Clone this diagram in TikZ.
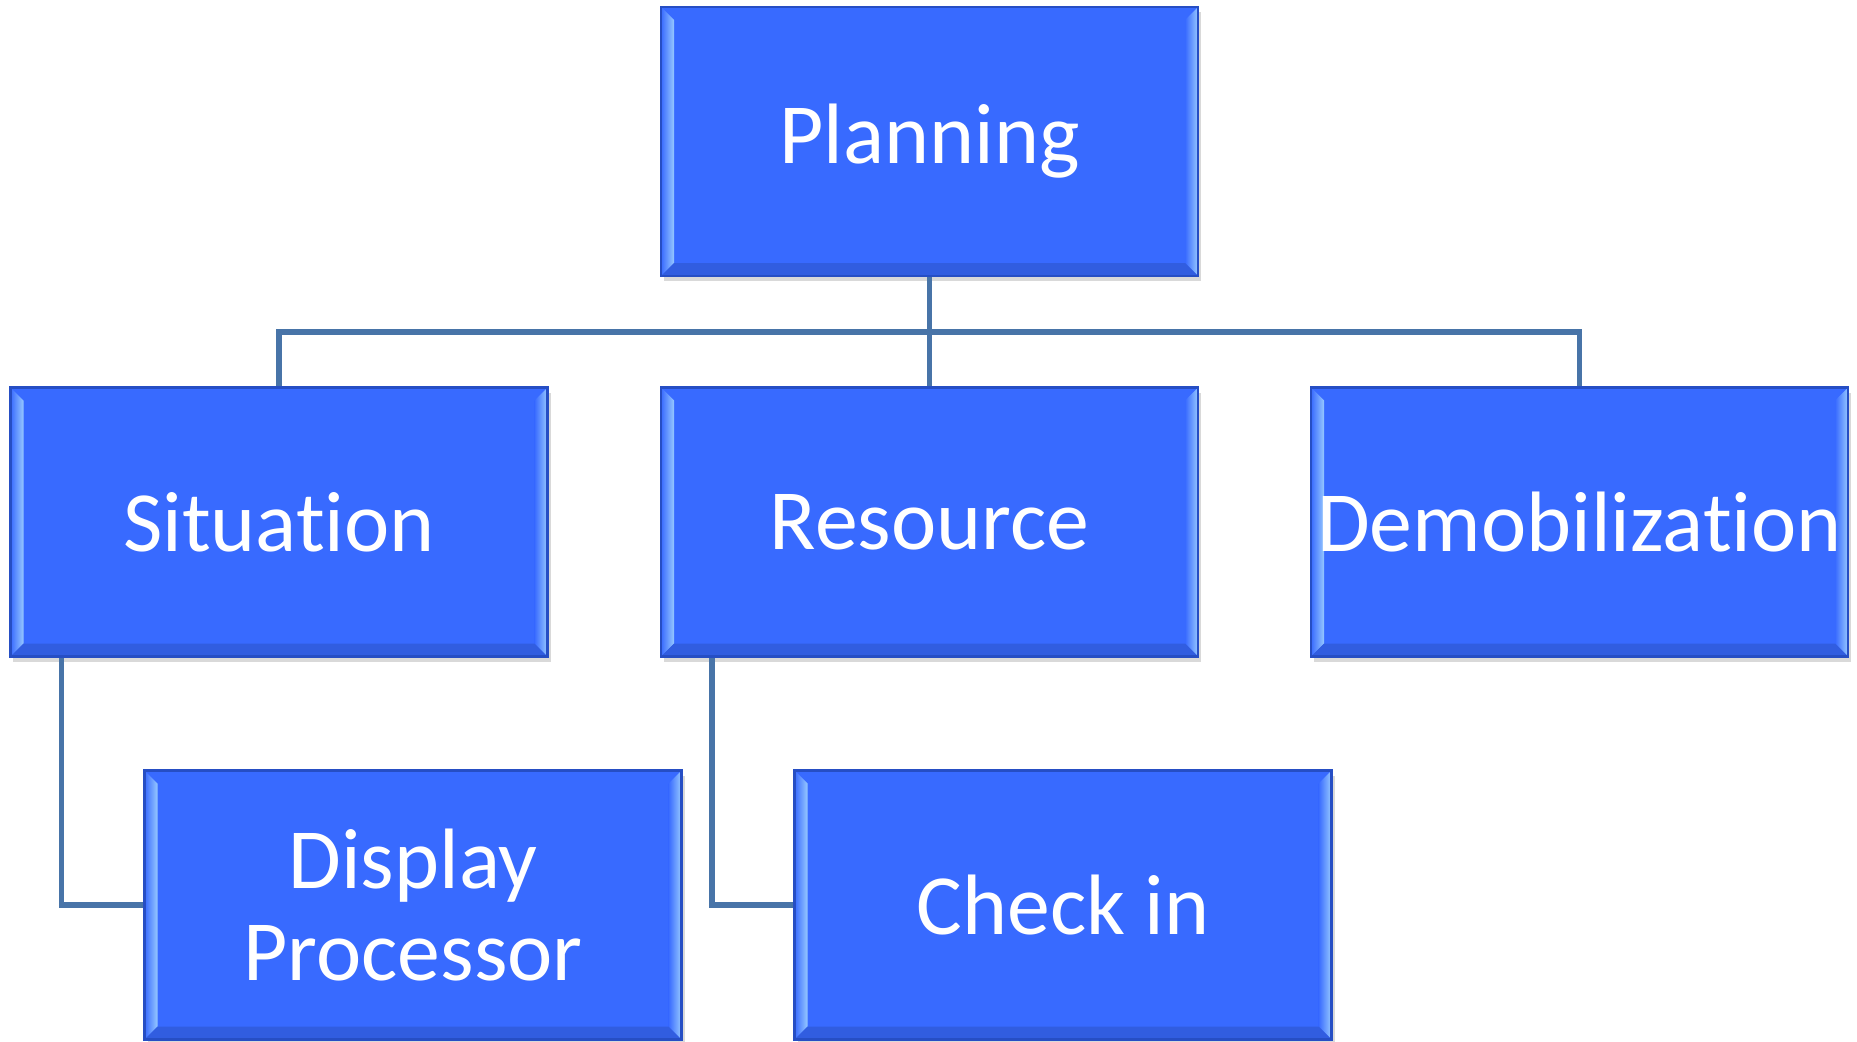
\documentclass[tikz,border=0pt]{standalone}
\usepackage{fontspec}
\setmainfont{Carlito}[Ligatures=NoCommon]
\usetikzlibrary{shadows}
\definecolor{boxBlue}{RGB}{56,106,255}
\definecolor{boxEdge}{RGB}{38,78,196}
\definecolor{boxLight}{RGB}{150,200,255}
\definecolor{lineBlue}{RGB}{72,116,168}

\begin{document}
\begin{tikzpicture}[
    unit/.style={draw=boxEdge, fill=boxBlue, line width=0.6pt,
      minimum width=5.37cm, minimum height=2.69cm, inner sep=0pt,
      text=white, align=center, font=\fontsize{24.4}{26}\selectfont,
      drop shadow={shadow xshift=0.03cm, shadow yshift=-0.05cm, opacity=0.3},
      path picture={
        \coordinate (sw) at (path picture bounding box.south west);
        \coordinate (ne) at (path picture bounding box.north east);
        \shade[left color=boxBlue, right color=boxLight] (sw) -- (sw|-ne) -- ++(\bev,-\bev) -- ([shift={(\bev,\bev)}]sw) -- cycle;
        \shade[left color=boxBlue, right color=boxLight] (ne) -- (ne|-sw) -- ++(-\bev,\bev) -- ([shift={(-\bev,-\bev)}]ne) -- cycle;
        \fill[boxBlue!88!black] (sw) -- (sw-|ne) -- ++(-\bev,\bev) -- ([shift={(\bev,\bev)}]sw) -- cycle;
      }},
    link/.style={draw=lineBlue, line width=1.6pt}
  ]
    \newcommand\bev{0.13}
    \newcommand\rowA{8.995}
    \newcommand\rowB{5.19}
    \newcommand\rowC{1.36}
    \newcommand\busy{7.09}

    \useasboundingbox (0,0) rectangle (18.57,10.41);

    \node[unit] (plan) at (9.295,\rowA) {Planning};

    \node[unit] (sit) at (2.79,\rowB) {Situation};
    \node[unit] (res) at (9.295,\rowB) {Resource};
    \node[unit] (dem) at (15.795,\rowB) {Demobilization};

    \node[unit] (disp) at (4.13,\rowC) {Display\\Processor};
    \node[unit] (chk) at (10.63,\rowC) {Check in};

    % connectors
    \draw[link] (plan.south) -- (res.north);
    \draw[link] (plan.south |- 0,\busy) -| (sit.north);
    \draw[link] (plan.south |- 0,\busy) -| (dem.north);
    \draw[link] ([xshift=0.52cm]sit.south west) |- (disp.west);
    \draw[link] ([xshift=0.52cm]res.south west) |- (chk.west);
\end{tikzpicture}
\end{document}
